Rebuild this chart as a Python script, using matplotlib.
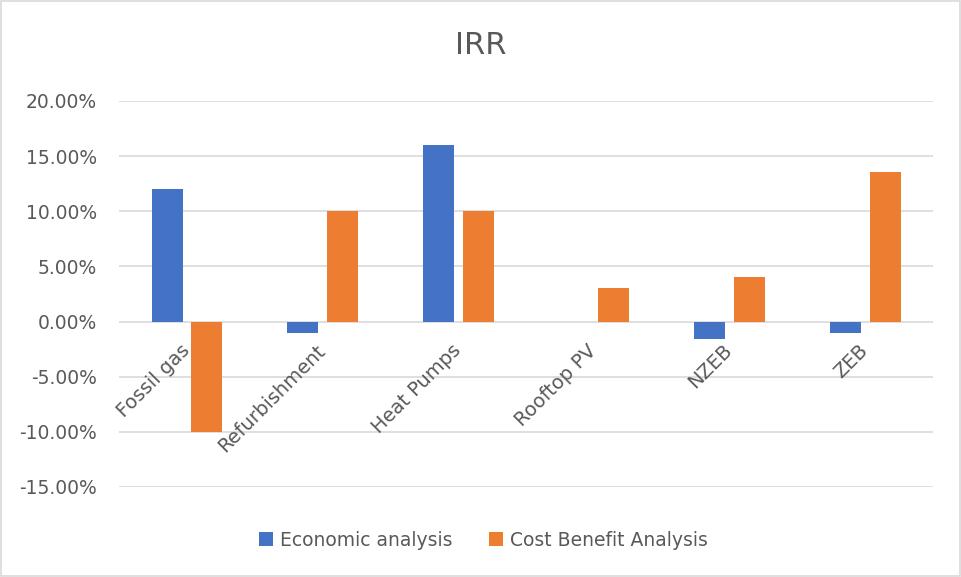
import matplotlib
matplotlib.use("Agg")
import matplotlib.pyplot as plt
import numpy as np

categories = ["Fossil gas", "Refurbishment", "Heat Pumps", "Rooftop PV", "NZEB", "ZEB"]
economic = [0.12, -0.01, 0.16, 0.0, -0.016, -0.01]
cost_benefit = [-0.10, 0.10, 0.10, 0.03, 0.04, 0.136]
y_ticks = [-0.15, -0.10, -0.05, 0.0, 0.05, 0.10, 0.15, 0.20]

BLUE = "#4472C4"
ORANGE = "#ED7D31"
TEXT = "#595959"
GRID = "#D9D9D9"

plt.rcParams["font.family"] = "DejaVu Sans"

fig = plt.figure(figsize=(9.61, 5.77), dpi=100)
ax = fig.add_axes([0.124, 0.156, 0.847, 0.669])

x = np.arange(len(categories))
w = 0.228
off = 0.147
ax.bar(x - off, economic, w, color=BLUE, label="Economic analysis", zorder=3)
ax.bar(x + off, cost_benefit, w, color=ORANGE, label="Cost Benefit Analysis", zorder=3)

ax.set_xlim(-0.5, len(categories) - 0.5)
ax.set_ylim(-0.15, 0.20)
ax.set_yticks(y_ticks)
ax.set_yticklabels([f"{v*100:.2f}%" for v in y_ticks])
ax.yaxis.grid(True, color=GRID, linewidth=1.2, zorder=0)
ax.tick_params(axis="y", length=0, pad=16, labelsize=13.5, labelcolor=TEXT)
ax.set_xticks([])
for s in ax.spines.values():
    s.set_visible(False)

# rotated category labels hanging under the zero line
for i, c in enumerate(categories):
    ax.annotate(c, xy=(i, 0), xytext=(-5, -14), textcoords="offset points",
                rotation=45, rotation_mode="anchor", ha="right", va="top",
                fontsize=14, color=TEXT)

fig.text(0.5, 0.922, "IRR", ha="center", va="center", fontsize=22, color=TEXT)

fig.legend(loc="center", bbox_to_anchor=(0.503, 0.064), ncol=2, frameon=False,
           fontsize=13.5, labelcolor=TEXT, handlelength=0.75, handleheight=0.75,
           handletextpad=0.4, columnspacing=1.9)

fig.patches.append(plt.Rectangle((0.001, 0.001), 0.998, 0.997, transform=fig.transFigure,
                                 fill=False, edgecolor=GRID, linewidth=1.2))

fig.savefig("out.png", dpi=100)
